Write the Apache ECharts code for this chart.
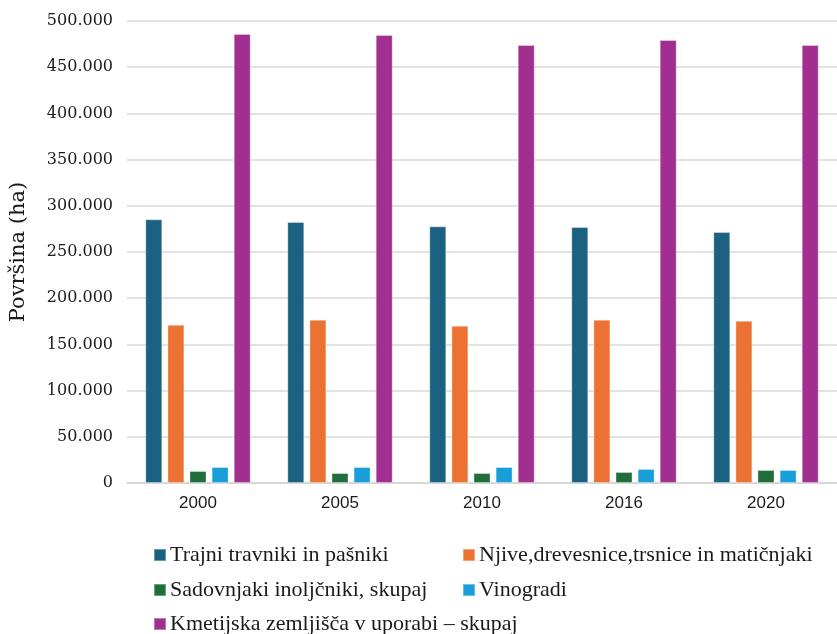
<!DOCTYPE html>
<html>
<head>
<meta charset="utf-8">
<script src="https://cdn.jsdelivr.net/npm/echarts@6/dist/echarts.min.js"></script>
<style>
  html, body { margin: 0; padding: 0; background: #ffffff; }
  #chart { width: 837px; height: 634px; }
</style>
</head>
<body>
<div id="chart"></div>
<script>
// Površina kmetijskih zemljišč po vrsti rabe (ha)
const years = ['2000', '2005', '2010', '2016', '2020'];

const seriesNames = [
  'Trajni travniki in pašniki',
  'Njive,drevesnice,trsnice in matičnjaki',
  'Sadovnjaki inoljčniki, skupaj',
  'Vinogradi',
  'Kmetijska zemljišča v uporabi – skupaj'
];

const travniki   = [285400, 282500, 277800, 277000, 271600];
const njive      = [171300, 176700, 170300, 176700, 175600];
const sadovnjaki = [13000, 10800, 10800, 11900, 14100];
const vinogradi  = [17300, 17300, 17300, 15200, 14100];
const skupaj     = [486000, 484800, 474000, 479400, 474000];

const yTicks = { min: 0, max: 500000, interval: 50000 };

const colors = ['#1b6182', '#eb7233', '#1f6e3b', '#189fd9', '#a02f8f'];
const values = [travniki, njive, sadovnjaki, vinogradi, skupaj];

const fmt = v => String(v).replace(/\B(?=(\d{3})+(?!\d))/g, '.');

// two-column legend, one component per entry
const legendPos = [
  { left: 153, top: 544 },
  { left: 462, top: 544 },
  { left: 153, top: 579 },
  { left: 462, top: 579 },
  { left: 153, top: 613 }
];

const chart = echarts.init(document.getElementById('chart'), null, { renderer: 'canvas' });

chart.setOption({
  animation: false,
  backgroundColor: '#ffffff',
  grid: { left: 127, right: -5, top: 21, bottom: 151, containLabel: false },
  legend: seriesNames.map((n, i) => ({
    data: [n],
    left: legendPos[i].left,
    top: legendPos[i].top,
    padding: 0,
    icon: 'rect',
    itemWidth: 12,
    itemHeight: 12,
    itemGap: 0,
    textStyle: { fontFamily: 'Liberation Serif', fontSize: 22, color: '#1a1a1a', padding: [0, 0, 0, -1] }
  })),
  xAxis: {
    type: 'category',
    data: years,
    axisLine: { show: true, lineStyle: { color: '#d4d4d4', width: 1.5 } },
    axisTick: { show: false },
    axisLabel: { fontFamily: 'Liberation Sans', fontSize: 17, color: '#1a1a1a', margin: 12 }
  },
  yAxis: {
    type: 'value',
    min: yTicks.min,
    max: yTicks.max,
    interval: yTicks.interval,
    name: 'Površina (ha)',
    nameLocation: 'middle',
    nameGap: 98,
    nameTextStyle: { fontFamily: 'DejaVu Serif', fontSize: 21, color: '#1a1a1a' },
    axisLine: { show: false },
    axisTick: { show: false },
    axisLabel: {
      fontFamily: 'DejaVu Serif',
      fontSize: 16,
      color: '#1a1a1a',
      margin: 14,
      formatter: fmt
    },
    splitLine: { lineStyle: { color: '#d9d9d9', width: 1.5 } }
  },
  series: seriesNames.map((n, i) => ({
    name: n,
    type: 'bar',
    data: values[i],
    barWidth: 17,
    barGap: '30%',
    itemStyle: {
      color: colors[i],
      borderColor: 'rgba(255,255,255,0.35)',
      borderWidth: 1
    }
  }))
});
</script>
</body>
</html>
